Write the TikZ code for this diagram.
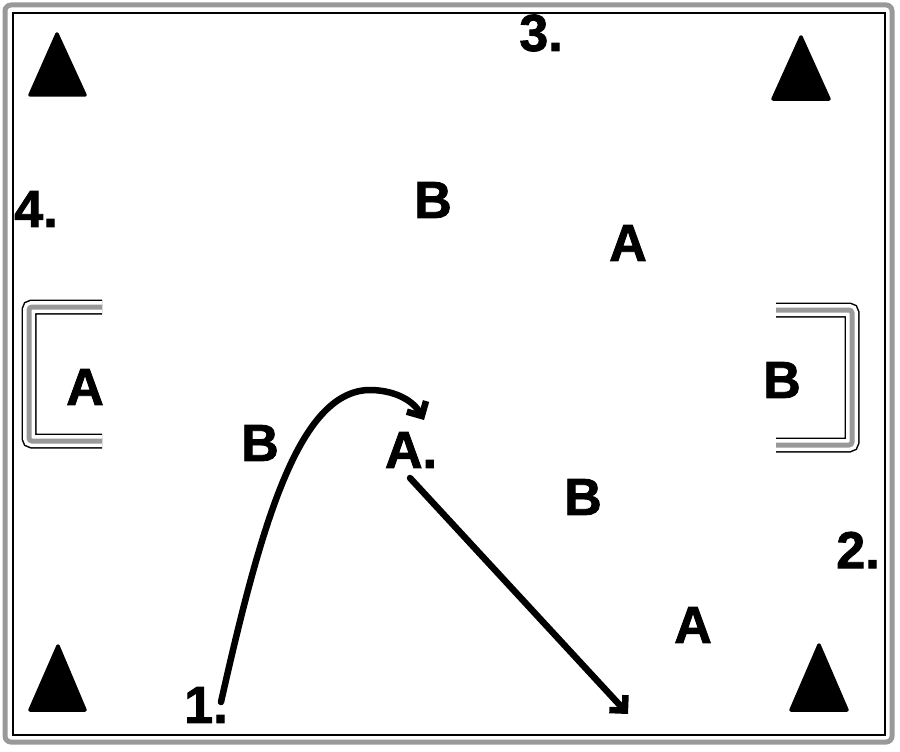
\documentclass[tikz,border=0pt]{standalone}
\usepackage{fontspec}
\setmainfont{Liberation Sans}
\newfontfamily\heavyfont[FakeBold=1.6]{Liberation Sans Bold}
\usetikzlibrary{arrows.meta}
\begin{document}
\begin{tikzpicture}[x=1pt,y=-1pt,
  lbl/.style={font=\fontsize{52}{52}\selectfont\heavyfont, inner sep=0pt},
  cone/.style={fill=black, draw=black, line width=3.5pt, line join=round},
  run/.style={line width=6.5pt, line cap=round, -{Straight Barb[length=11pt,width=22pt,line width=6.5pt]}}]
\useasboundingbox (0,0) rectangle (900,752);
\fill[white] (0,0) rectangle (900,752);
% frame
\draw[gray!80, line width=5pt, rounded corners=6pt] (5,5) rectangle (892,742);
\draw[black, line width=1.5pt] (13,13) rectangle (885,735);
% cones
\draw[cone] (57,34) -- (85,95) -- (30,95) -- cycle;
\draw[cone] (801,37) -- (829,99) -- (773,99) -- cycle;
\draw[cone] (58,646) -- (85,710) -- (30,710) -- cycle;
\draw[cone] (819,645) -- (847,710) -- (791,710) -- cycle;
% goals
\foreach \c/\w in {black/15pt, white/12pt, gray!80/5pt}{
  \draw[\c, line width=\w, rounded corners=3pt] (102,307) -- (29,307) -- (29,441) -- (102,441);
  \draw[\c, line width=\w, rounded corners=3pt] (776,310) -- (852,310) -- (852,445) -- (776,445);
}
% labels
\node[lbl] (n3) at (541,33) {3.};
\node[lbl] (n4) at (36,209) {4.};
\node[lbl] (b1) at (433,200) {B};
\node[lbl] (a1) at (628,243) {A};
\node[lbl] (a2) at (85,387) {A};
\node[lbl] (b2) at (782,380) {B};
\node[lbl] (b3) at (260,443) {B};
\node[lbl] (a3) at (411,450) {A.};
\node[lbl] (b4) at (583,497) {B};
\node[lbl] (n2) at (858,550) {2.};
\node[lbl] (a4) at (693,625) {A};
\node[lbl] (n1) at (206,705) {1.};
% runs
\coordinate (s1) at (221,702);
\coordinate (e1) at (424,420);
\coordinate (s2) at (410,478);
\coordinate (e2) at (628,714);
\draw[run] (s1) .. controls (262,520) and (300,388) .. (372,390) .. controls (398,391) and (414,402) .. (e1);
\draw[run] (s2) -- (e2);
\end{tikzpicture}
\end{document}
